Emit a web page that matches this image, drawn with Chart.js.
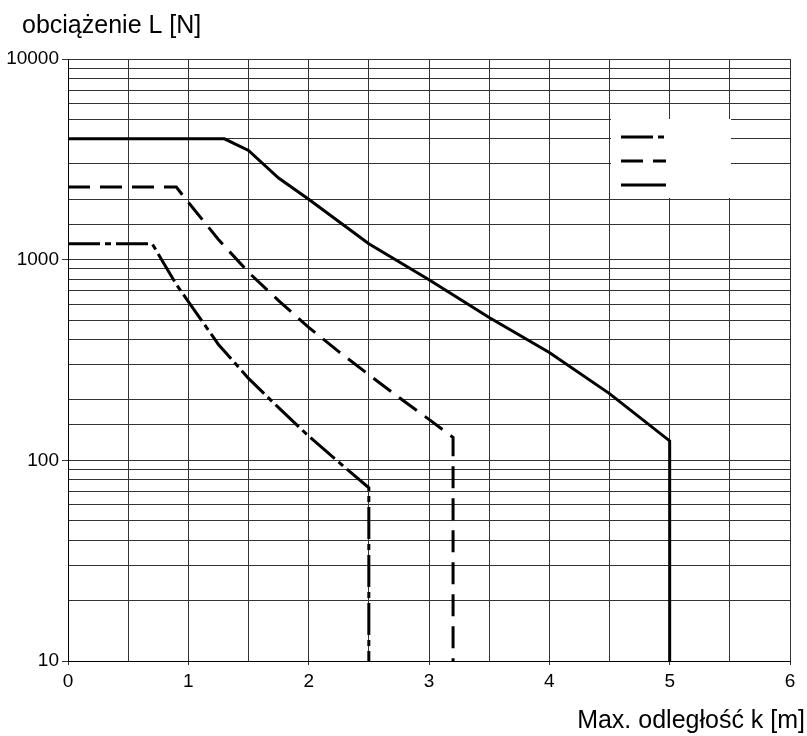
<!DOCTYPE html>
<html>
<head>
<meta charset="utf-8">
<script src="https://cdn.jsdelivr.net/npm/chart.js@4/dist/chart.umd.min.js"></script>
<style>
  html, body { margin: 0; padding: 0; background: #fff; }
  canvas { display: block; }
</style>
</head>
<body>
<canvas id="c" width="807" height="736"></canvas>
<script>
// ---- data ----
const dashDotX = [0, 0.7, 0.9, 1.0, 1.25, 1.5, 1.75, 2.0, 2.25, 2.5, 2.5];
const dashDotY = [1200, 1200, 753, 618, 378, 256, 183, 132, 98, 73, 10];

const dashedX = [0, 0.9, 1.0, 1.25, 1.5, 1.75, 2.0, 2.25, 2.5, 2.75, 3.0, 3.2, 3.2];
const dashedY = [2300, 2300, 1930, 1260, 865, 625, 460, 348, 267, 206, 160, 130, 10];

const solidX = [0, 1.3, 1.5, 1.75, 2.0, 2.5, 3.0, 3.5, 4.0, 4.5, 5.0, 5.0];
const solidY = [4000, 4000, 3500, 2550, 2000, 1200, 795, 515, 345, 215, 125, 10];

const yTickLabels = [10, 100, 1000, 10000];
const xTickLabels = [0, 1, 2, 3, 4, 5, 6];

const yTitle = 'obciążenie L [N]';
const xTitle = 'Max. odległość k [m]';

const FONT = "'Liberation Sans', Arial, Helvetica, sans-serif";

function pts(xs, ys) { return xs.map((x, i) => ({ x: x, y: ys[i] })); }

const DASHDOT = [32, 5, 6, 5];
const DASHED = [22, 10];

const datasets = [
  { data: pts(dashDotX, dashDotY), borderDash: DASHDOT },
  { data: pts(dashedX, dashedY), borderDash: DASHED },
  { data: pts(solidX, solidY), borderDash: [] }
].map(d => Object.assign({
  borderColor: '#000',
  borderWidth: 3,
  pointRadius: 0,
  tension: 0,
  fill: false,
  borderCapStyle: 'butt'
}, d));

const textPlugin = {
  id: 'texts',
  afterDraw(chart) {
    const ctx = chart.ctx;
    ctx.save();
    ctx.fillStyle = '#000';
    ctx.font = '25px ' + FONT;
    ctx.textBaseline = 'alphabetic';
    ctx.textAlign = 'left';
    ctx.fillText(yTitle, 22, 33);
    ctx.textAlign = 'right';
    ctx.fillText(xTitle, 805, 728);
    ctx.restore();
  }
};

const legendPlugin = {
  id: 'lineKey',
  afterDatasetsDraw(chart) {
    const ctx = chart.ctx;
    ctx.save();
    ctx.fillStyle = '#fff';
    ctx.fillRect(611, 119, 120, 79);
    const rows = [137, 161, 185];
    chart.data.datasets.forEach((ds, i) => {
      ctx.beginPath();
      ctx.setLineDash(ds.borderDash || []);
      ctx.lineWidth = 3;
      ctx.strokeStyle = '#000';
      ctx.lineCap = 'butt';
      ctx.moveTo(621, rows[i]);
      ctx.lineTo(666, rows[i]);
      ctx.stroke();
    });
    ctx.restore();
  }
};

new Chart(document.getElementById('c'), {
  type: 'line',
  data: { datasets: datasets },
  options: {
    responsive: false,
    animation: false,
    devicePixelRatio: 1,
    layout: { padding: { top: 59, right: 17, left: 0, bottom: 0 } },
    plugins: { legend: { display: false }, tooltip: { enabled: false } },
    scales: {
      x: {
        type: 'linear',
        min: 0, max: 6,
        afterFit(s) { s.height = 75; },
        ticks: {
          stepSize: 0.5,
          autoSkip: false,
          maxRotation: 0,
          padding: 5,
          color: '#000',
          font: { family: FONT, size: 19 },
          callback: v => xTickLabels.includes(v) ? String(v) : ''
        },
        grid: {
          color: '#333',
          lineWidth: 1,
          tickLength: 4,
          tickColor: c => (c.tick && xTickLabels.includes(c.tick.value)) ? '#333' : 'rgba(0,0,0,0)'
        },
        border: { color: '#000', width: 1 }
      },
      y: {
        type: 'logarithmic',
        min: 10, max: 10000,
        afterFit(s) { s.width = 68; },
        ticks: {
          autoSkip: false,
          padding: 3,
          color: '#000',
          font: { family: FONT, size: 19 },
          callback: v => yTickLabels.includes(v) ? String(v) : ''
        },
        grid: {
          color: '#333',
          lineWidth: 1,
          tickLength: 6,
          tickColor: c => (c.tick && yTickLabels.includes(c.tick.value)) ? '#333' : 'rgba(0,0,0,0)'
        },
        border: { color: '#000', width: 1 }
      }
    }
  },
  plugins: [textPlugin, legendPlugin]
});
</script>
</body>
</html>
